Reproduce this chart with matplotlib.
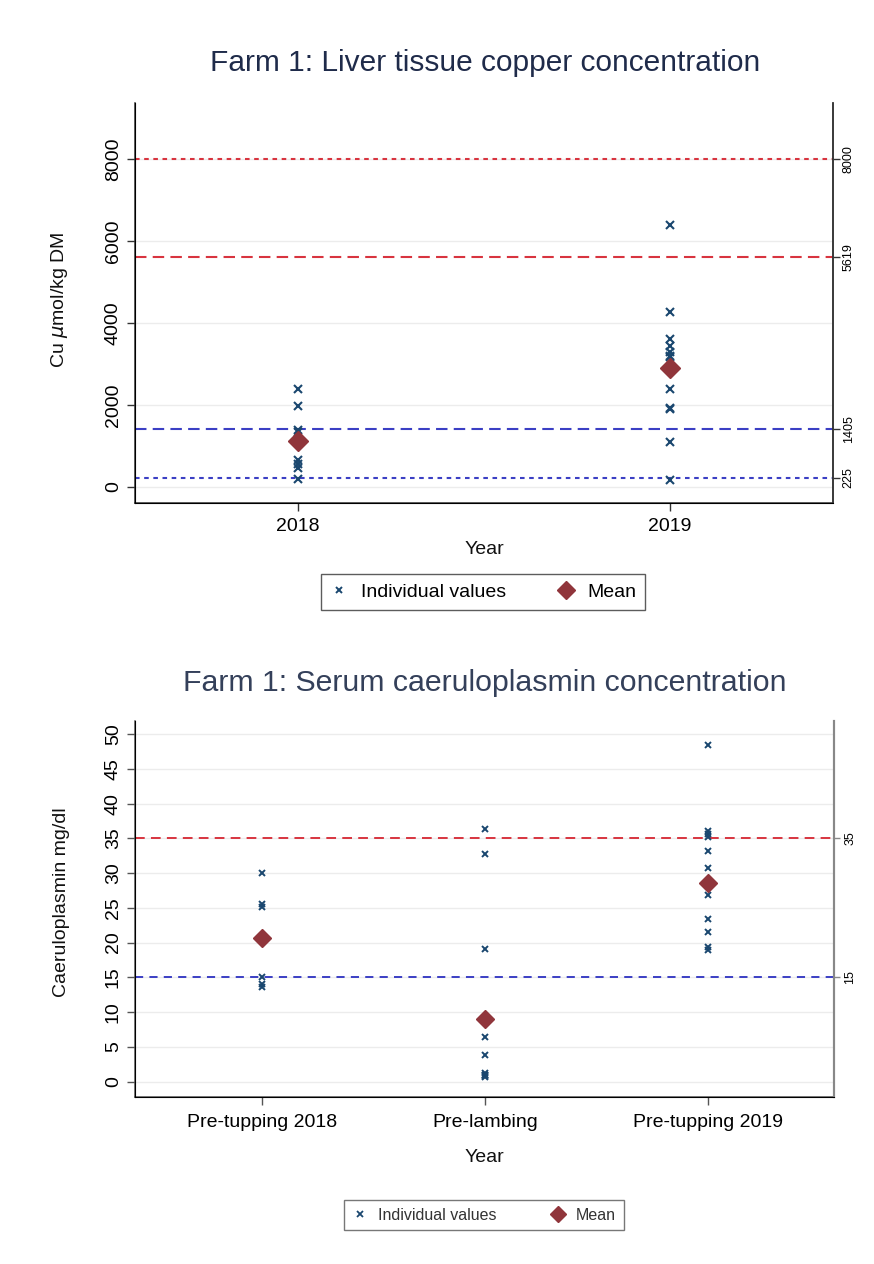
import matplotlib
matplotlib.use("Agg")
import matplotlib.pyplot as plt
from matplotlib.lines import Line2D

plt.rcParams['font.family'] = ['Liberation Sans', 'DejaVu Sans']

# ---------------- data ----------------
liver_years = ["2018", "2019"]
liver_2018 = [2400, 1980, 1400, 1340, 650, 560, 470, 200]
liver_2019 = [6400, 4270, 3620, 3450, 3300, 3200, 3170, 2380, 1920, 1900, 1100, 170]
liver_means = [1120, 2910]
liver_ticks = [0, 2000, 4000, 6000, 8000]
liver_refs = [8000, 5619, 1405, 225]

serum_groups = ["Pre-tupping 2018", "Pre-lambing", "Pre-tupping 2019"]
serum_pt2018 = [30.0, 25.6, 25.1, 15.0, 14.1, 13.6]
serum_pl = [36.4, 32.8, 19.1, 6.4, 3.8, 1.2, 1.0, 0.9, 0.8, 0.7]
serum_pt2019 = [48.4, 36.1, 35.6, 35.2, 33.2, 30.8, 26.9, 23.4, 21.5, 19.3, 18.9]
serum_means = [20.7, 9.0, 28.6]
serum_ticks = [0, 5, 10, 15, 20, 25, 30, 35, 40, 45, 50]
serum_refs = [35, 15]

# ---------------- style ----------------
XCOL = '#1a476f'
MCOL = '#90353b'
RED = '#d8343f'
BLUE = '#3b3fc4'
GRID = '#ececec'

W, H = 874, 1264
fig = plt.figure(figsize=(W / 100, H / 100), dpi=100)


def fx(px):
    return px / W


def fy(py):
    return 1 - py / H


# ================= TOP CHART =================
ax1 = fig.add_axes([fx(135), fy(503), fx(833 - 135), (503 - 103) / H])
ax1.set_xlim(2017.562, 2019.438)
ax1.set_ylim(-390, 9366)
for v in liver_ticks:
    ax1.axhline(v, color=GRID, lw=1.0, zorder=0)

ref_styles1 = [(RED, (2.2, 2.2)), (RED, (5.5, 3.0)), (BLUE, (5.5, 3.0)), (BLUE, (2.2, 2.2))]
for v, (c, d) in zip(liver_refs, ref_styles1):
    ax1.axhline(v, color=c, lw=1.5, dashes=d, zorder=1)

x_pos = [int(y) for y in liver_years]
for xp, vals in zip(x_pos, [liver_2018, liver_2019]):
    ax1.plot([xp] * len(vals), vals, linestyle='none', marker='x', ms=6,
             mew=1.5, color=XCOL, zorder=3)
ax1.plot(x_pos, liver_means, linestyle='none', marker='D', ms=10,
         color=MCOL, mec=MCOL, zorder=4)

ax1.set_xticks(x_pos)
ax1.set_xticklabels(liver_years, fontsize=14)
ax1.set_yticks(liver_ticks)
ax1.set_yticklabels([str(t) for t in liver_ticks], fontsize=14, rotation=90, va='center')
ax1.tick_params(axis='both', direction='out', length=6, width=1, color='#333333')
ax1.tick_params(axis='x', pad=5)
ax1.spines['top'].set_visible(False)
for s in ['left', 'bottom', 'right']:
    ax1.spines[s].set_color('#333333')
    ax1.spines[s].set_linewidth(1.1)

ax1r = ax1.twinx()
ax1r.set_ylim(ax1.get_ylim())
ax1r.set_yticks(liver_refs)
ax1r.set_yticklabels([str(v) for v in liver_refs], fontsize=9, rotation=90, va='center')
ax1r.tick_params(axis='y', direction='out', length=5, width=1, color='#333333', pad=2)
ax1r.spines['top'].set_visible(False)
ax1r.spines['right'].set_color('#333333')
ax1r.spines['right'].set_linewidth(1.1)

fig.text(fx(485), fy(63), "Farm 1: Liver tissue copper concentration",
         ha='center', va='center', fontsize=21.5, color='#1f2b4a')
fig.text(fx(60), fy(300), "Cu $\\mu$mol/kg DM", rotation=90, ha='center',
         va='center', fontsize=14, color='#111111')
fig.text(fx(484), fy(550), "Year", ha='center', va='center', fontsize=14, color='#111111')

h_x = Line2D([], [], linestyle='none', marker='x', ms=5, mew=1.4, color=XCOL)
h_d = Line2D([], [], linestyle='none', marker='D', ms=9, color=MCOL)
leg1 = fig.legend([h_x, h_d], ["Individual values", "Mean"], loc='center',
                  bbox_to_anchor=(fx(483), fy(592)), ncol=2, fontsize=14,
                  frameon=True, fancybox=False, edgecolor='#333333',
                  handlelength=1.0, handletextpad=0.6, columnspacing=2.6,
                  borderpad=0.45)
leg1.get_frame().set_linewidth(1.0)

# ================= BOTTOM CHART =================
ax2 = fig.add_axes([fx(135), fy(1097), fx(834 - 135), (1097 - 721) / H])
ax2.set_xlim(-0.568, 2.564)
ax2.set_ylim(-2.23, 51.9)
for v in serum_ticks:
    ax2.axhline(v, color=GRID, lw=1.0, zorder=0)
ax2.axhline(serum_refs[0], color=RED, lw=1.4, dashes=(5.0, 3.2), zorder=1)
ax2.axhline(serum_refs[1], color=BLUE, lw=1.4, dashes=(4.2, 3.2), zorder=1)

for i, vals in enumerate([serum_pt2018, serum_pl, serum_pt2019]):
    ax2.plot([i] * len(vals), vals, linestyle='none', marker='x', ms=5,
             mew=1.4, color=XCOL, zorder=3)
ax2.plot(range(3), serum_means, linestyle='none', marker='D', ms=9,
         color=MCOL, mec=MCOL, zorder=4)

ax2.set_xticks(range(3))
ax2.set_xticklabels(serum_groups, fontsize=14)
ax2.set_yticks(serum_ticks)
ax2.set_yticklabels([str(t) for t in serum_ticks], fontsize=14, rotation=90, va='center')
ax2.tick_params(axis='both', direction='out', length=6, width=1, color='#555555')
ax2.tick_params(axis='x', pad=6)
ax2.spines['top'].set_visible(False)
for s in ['left', 'bottom']:
    ax2.spines[s].set_color('#555555')
    ax2.spines[s].set_linewidth(1.1)
ax2.spines['right'].set_color('#888888')
ax2.spines['right'].set_linewidth(1.5)

ax2r = ax2.twinx()
ax2r.set_ylim(ax2.get_ylim())
ax2r.set_yticks(serum_refs)
ax2r.set_yticklabels([str(v) for v in serum_refs], fontsize=9, rotation=90, va='center')
ax2r.tick_params(axis='y', direction='out', length=4, width=1, color='#888888')
ax2r.spines['top'].set_visible(False)
ax2r.spines['right'].set_color('#888888')
ax2r.spines['right'].set_linewidth(1.5)

fig.text(fx(485), fy(683), "Farm 1: Serum caeruloplasmin concentration",
         ha='center', va='center', fontsize=21.8, color='#34405a')
fig.text(fx(62), fy(902), "Caeruloplasmin mg/dl", rotation=90, ha='center',
         va='center', fontsize=14, color='#111111')
fig.text(fx(484), fy(1158), "Year", ha='center', va='center', fontsize=14, color='#111111')

h_x2 = Line2D([], [], linestyle='none', marker='x', ms=4.5, mew=1.3, color=XCOL)
h_d2 = Line2D([], [], linestyle='none', marker='D', ms=8, color=MCOL)
leg2 = fig.legend([h_x2, h_d2], ["Individual values", "Mean"], loc='center',
                  bbox_to_anchor=(fx(484), fy(1215)), ncol=2, fontsize=11.5,
                  frameon=True, fancybox=False, edgecolor='#555555',
                  handlelength=1.0, handletextpad=0.6, columnspacing=3.4,
                  borderpad=0.5, labelcolor='#333333')
leg2.get_frame().set_linewidth(1.0)

fig.savefig("out.png", dpi=100, facecolor='white')
